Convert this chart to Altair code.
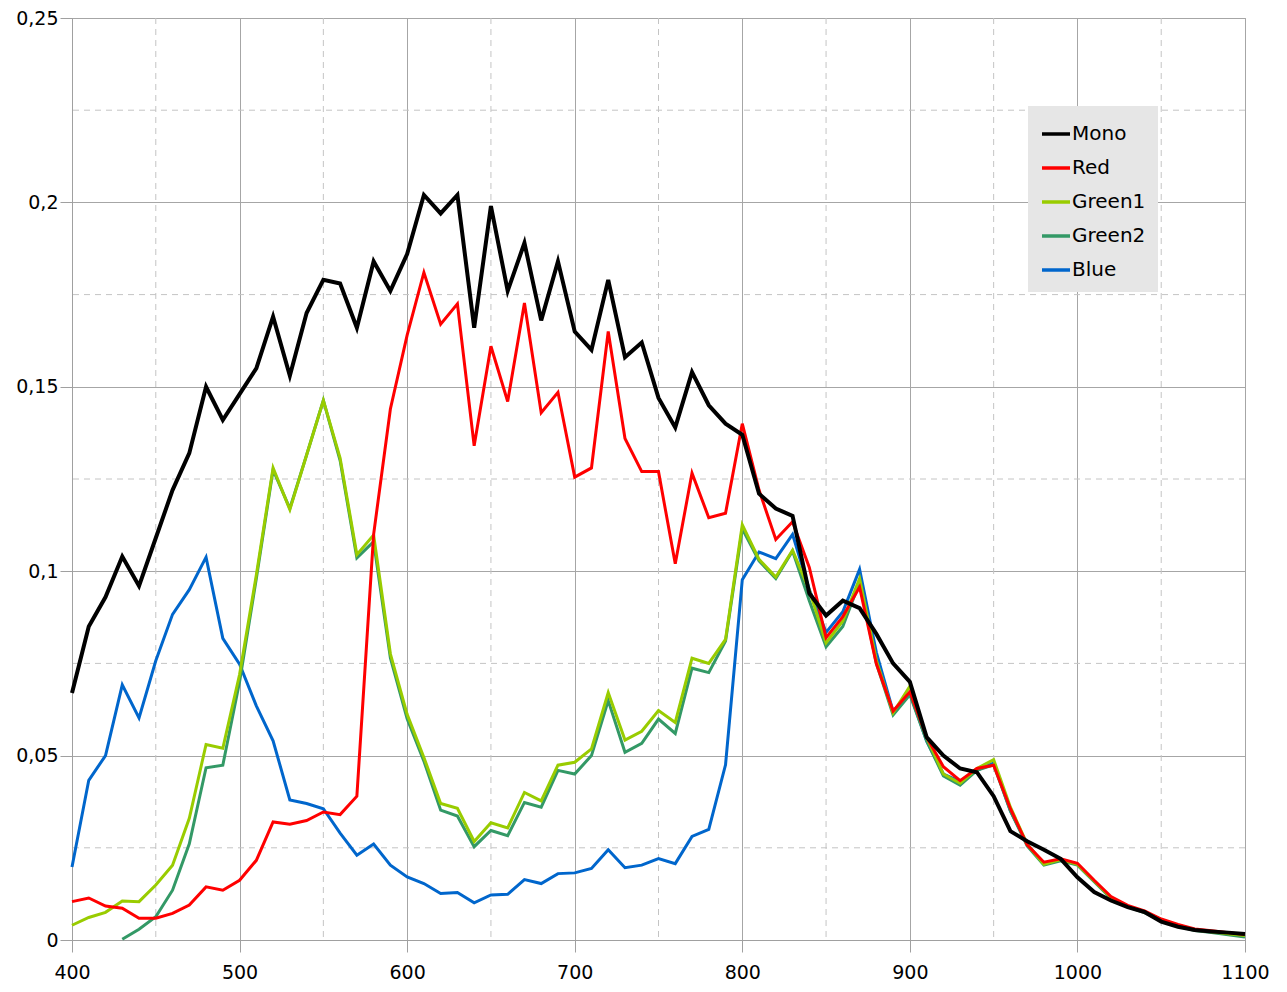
import altair as alt
import pandas as pd

wavelength = list(range(400, 1101, 10))

mono = [0.067, 0.085, 0.093, 0.104, 0.096, 0.109, 0.122, 0.132, 0.150, 0.141,
        0.148, 0.155, 0.169, 0.153, 0.170, 0.179, 0.178, 0.166, 0.184, 0.176,
        0.186, 0.202, 0.197, 0.202, 0.166, 0.199, 0.176, 0.189, 0.168, 0.184,
        0.165, 0.160, 0.179, 0.158, 0.162, 0.147, 0.139, 0.154, 0.145, 0.140,
        0.137, 0.121, 0.117, 0.115, 0.094, 0.088, 0.092, 0.090, 0.083, 0.075,
        0.070, 0.055, 0.050, 0.0465, 0.0455, 0.039, 0.0295, 0.0268, 0.0245, 0.022,
        0.017, 0.013, 0.0107, 0.0089, 0.0076, 0.005, 0.0036, 0.0027, 0.0023, 0.002,
        0.0016]

red = [0.0104, 0.0114, 0.0092, 0.0086, 0.0059, 0.0059, 0.0072, 0.0095, 0.0144, 0.0135,
       0.0162, 0.0216, 0.032, 0.0314, 0.0324, 0.0347, 0.034, 0.039, 0.110, 0.144,
       0.164, 0.181, 0.167, 0.1725, 0.134, 0.161, 0.146, 0.1727, 0.143, 0.1485,
       0.1255, 0.128, 0.165, 0.136, 0.127, 0.127, 0.102, 0.1266, 0.1145, 0.1157,
       0.140, 0.122, 0.1086, 0.1134, 0.101, 0.082, 0.0877, 0.0957, 0.0749, 0.0621,
       0.0673, 0.055, 0.047, 0.0432, 0.0465, 0.0474, 0.0356, 0.0258, 0.0211, 0.022,
       0.0208, 0.0162, 0.0118, 0.0094, 0.0079, 0.0057, 0.0042, 0.003, 0.0025, 0.002,
       0.0015]

green1 = [0.004, 0.0061, 0.0075, 0.0106, 0.0104, 0.0149, 0.0203, 0.033, 0.053, 0.052,
          0.072, 0.099, 0.128, 0.1167, 0.1315, 0.1463, 0.1307, 0.1045, 0.1098, 0.0776,
          0.0612, 0.0495, 0.037, 0.0357, 0.0267, 0.0318, 0.0304, 0.040, 0.0377, 0.0474,
          0.0482, 0.0518, 0.0671, 0.0542, 0.0566, 0.0622, 0.059, 0.0764, 0.075, 0.0815,
          0.1126, 0.1032, 0.0984, 0.1057, 0.0948, 0.0806, 0.0865, 0.098, 0.0759, 0.0616,
          0.0688, 0.055, 0.045, 0.0425, 0.0465, 0.0489, 0.036, 0.026, 0.0205, 0.0218,
          0.0205, 0.016, 0.0115, 0.0092, 0.0076, 0.0055, 0.004, 0.0028, 0.0022, 0.0017,
          0.0012]

green2 = [None, None, None, 0.0002, 0.0029, 0.0063, 0.0135, 0.0261, 0.0467, 0.0474,
          0.070, 0.098, 0.1275, 0.117, 0.1315, 0.1463, 0.130, 0.1036, 0.108, 0.0765,
          0.060, 0.0485, 0.0352, 0.0336, 0.0253, 0.0297, 0.0283, 0.0373, 0.036, 0.046,
          0.045, 0.050, 0.0649, 0.0509, 0.0533, 0.0599, 0.056, 0.0737, 0.0725, 0.0811,
          0.1115, 0.1028, 0.098, 0.1055, 0.092, 0.0795, 0.085, 0.097, 0.075, 0.061,
          0.0665, 0.054, 0.0445, 0.042, 0.046, 0.0475, 0.035, 0.0255, 0.0203, 0.0215,
          0.0203, 0.0158, 0.0113, 0.009, 0.0074, 0.0053, 0.0038, 0.0026, 0.002, 0.0014,
          0.0008]

blue = [0.0198, 0.0433, 0.050, 0.0692, 0.0602, 0.0757, 0.0883, 0.095, 0.1038, 0.0818,
        0.0748, 0.0635, 0.054, 0.038, 0.037, 0.0356, 0.029, 0.023, 0.026, 0.0203,
        0.0171, 0.0153, 0.0126, 0.0129, 0.0101, 0.0122, 0.0124, 0.0164, 0.0153, 0.018,
        0.0182, 0.0194, 0.0245, 0.0196, 0.0203, 0.0221, 0.0207, 0.0281, 0.030, 0.0475,
        0.0977, 0.1052, 0.1034, 0.110, 0.095, 0.0834, 0.089, 0.1005, 0.078, 0.062,
        0.067, 0.054, 0.045, 0.043, 0.046, 0.048, 0.035, 0.026, 0.0206, 0.0218,
        0.0206, 0.016, 0.0115, 0.0092, 0.0076, 0.0055, 0.004, 0.0028, 0.0022, 0.0016,
        0.001]

series_names = ["Mono", "Red", "Green1", "Green2", "Blue"]
series_colors = ["#000000", "#ff0000", "#99cc00", "#339966", "#0066cc"]
series_values = [mono, red, green1, green2, blue]
series_widths = [4, 3, 3, 3, 3]

x_major = [400, 500, 600, 700, 800, 900, 1000, 1100]
x_minor = [450, 550, 650, 750, 850, 950, 1050]
y_major = [0, 0.05, 0.1, 0.15, 0.2, 0.25]
y_minor = [0.025, 0.075, 0.125, 0.175, 0.225]

rows = []
for name, vals in zip(series_names, series_values):
    for w, v in zip(wavelength, vals):
        if v is not None:
            rows.append({"wavelength": w, "value": v, "series": name})
df = pd.DataFrame(rows)

x_scale = alt.Scale(domain=[400, 1100], nice=False, zero=False)
y_scale = alt.Scale(domain=[0, 0.25], nice=False)
color_scale = alt.Scale(domain=series_names, range=series_colors)

x_axis = alt.Axis(values=x_major, title=None, grid=True, tickSize=12,
                  labelPadding=11, format="d", labelFlush=False, labelOverlap=False)
y_axis = alt.Axis(values=y_major, title=None, grid=True, tickSize=12,
                  labelPadding=2, labelFlush=False, labelOverlap=False,
                  labelExpr="replace(toString(datum.value), '.', ',')")

legend = alt.Legend(orient="none", legendX=956, legendY=88, title=None)

minor_x_df = pd.DataFrame({"v": x_minor})
minor_y_df = pd.DataFrame({"v": y_minor})

gx = alt.Chart(minor_x_df).mark_rule(color="#c4c4c4", strokeDash=[6, 5], strokeWidth=1).encode(
    x=alt.X("v:Q", scale=x_scale, axis=x_axis)
)
gy = alt.Chart(minor_y_df).mark_rule(color="#c4c4c4", strokeDash=[6, 5], strokeWidth=1).encode(
    y=alt.Y("v:Q", scale=y_scale, axis=y_axis)
)

draw_order = ["Blue", "Green2", "Green1", "Red", "Mono"]
layers = [gx, gy]
for name in draw_order:
    i = series_names.index(name)
    layers.append(
        alt.Chart(df).transform_filter(alt.datum.series == name).mark_line(
            strokeWidth=series_widths[i]
        ).encode(
            x=alt.X("wavelength:Q", scale=x_scale, axis=x_axis),
            y=alt.Y("value:Q", scale=y_scale, axis=y_axis),
            color=alt.Color("series:N", scale=color_scale, legend=legend),
        )
    )

chart = alt.layer(*layers).properties(
    width=1173,
    height=922,
    autosize=alt.AutoSizeParams(type="none"),
    padding={"left": 64, "top": 10, "right": 30, "bottom": 44},
).configure_view(
    stroke="#a0a0a0"
).configure_axis(
    labelFont="DejaVu Sans",
    labelFontSize=19,
    labelColor="#000000",
    tickColor="#a0a0a0",
    domainColor="#a0a0a0",
    gridColor="#a6a6a6",
    gridWidth=1,
).configure_legend(
    fillColor="#e6e6e6",
    padding=12,
    symbolType="stroke",
    symbolSize=784,
    symbolStrokeWidth=3.5,
    labelFont="DejaVu Sans",
    labelFontSize=20,
    labelColor="#000000",
    labelOffset=0,
    rowPadding=8,
)

chart.save("out.html", embed_options={"renderer": "svg", "actions": False})
